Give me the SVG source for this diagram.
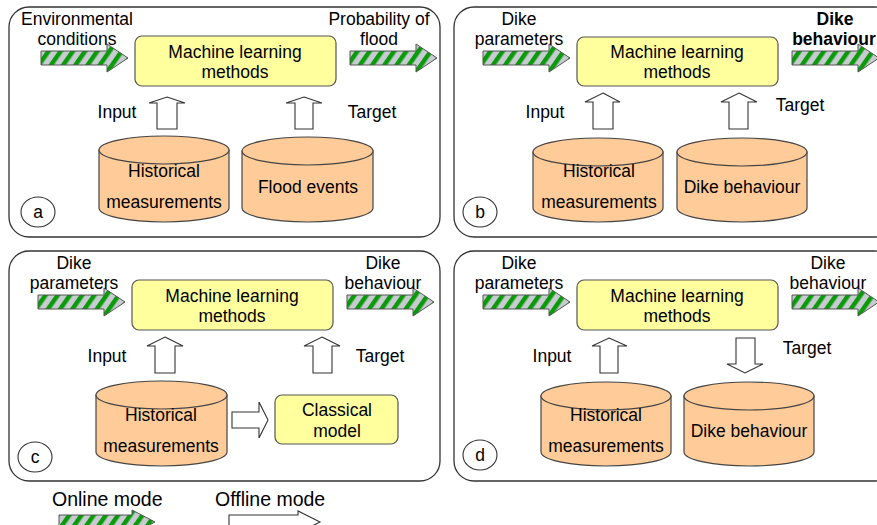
<svg xmlns="http://www.w3.org/2000/svg" width="877" height="525" viewBox="0 0 877 525">
<style>
text{font-family:"Liberation Sans",Arial,sans-serif;font-size:17.5px;fill:#000;text-anchor:middle}
text.leg{text-anchor:start;font-size:19.5px}
text.bold{font-weight:bold}
.panel{fill:#fff;stroke:#333;stroke-width:1.3}
.ml{fill:#FFFF9E;stroke:#555;stroke-width:1.2}
.cyl{fill:#FFCC99;stroke:#444;stroke-width:1.2}
.blk{fill:#fff;stroke:#333;stroke-width:1.1}
.lbl{fill:#fff;stroke:#333;stroke-width:1.1}
.str{fill:url(#stripes);stroke:#555;stroke-width:1}
</style>
<defs>
<pattern id="stripes" patternUnits="userSpaceOnUse" width="10" height="10" patternTransform="rotate(35)">
<rect width="10" height="10" fill="#C9CBD2"/>
<rect width="4.5" height="10" fill="#0A9A0A"/>
</pattern>
<path id="sarrow" d="M0,-7 L66,-7 L66,-14 L87,0 L66,14 L66,7 L0,7 Z"/>
</defs>

<g id="panel-a">
<rect class="panel" x="9" y="7" width="431" height="230" rx="20"/>
<g id="a-in"><use href="#sarrow" class="str" x="41" y="58"/><text x="77" y="25">Environmental</text><text x="77" y="45">conditions</text></g>
<g id="a-out"><use href="#sarrow" class="str" x="350" y="58"/><text x="379" y="25">Probability of</text><text x="379" y="45">flood</text></g>
<g id="a-ml"><rect class="ml" x="135" y="36" width="201" height="50" rx="7"/><text x="235" y="58">Machine learning</text><text x="235" y="78">methods</text></g>
<g id="a-hist"><path class="cyl" d="M99,150 L99,208 A65,14 0 0 0 229,208 L229,150 Z"/><ellipse class="cyl" cx="164" cy="150" rx="65" ry="14"/><text x="164" y="177">Historical</text><text x="164" y="208">measurements</text></g>
<g id="a-flood"><path class="cyl" d="M242,151 L242,208 A65.5,14 0 0 0 373,208 L373,151 Z"/><ellipse class="cyl" cx="307.5" cy="151" rx="65.5" ry="14"/><text x="308" y="193">Flood events</text></g>
<g id="a-tag"><ellipse class="lbl" cx="38" cy="212" rx="17" ry="15"/><text x="38" y="218">a</text></g>
</g>

<g id="panel-b">
<rect class="panel" x="454" y="7" width="440" height="230" rx="20"/>
<g id="b-in"><use href="#sarrow" class="str" x="483" y="58"/><text x="519" y="25">Dike</text><text x="519" y="45">parameters</text></g>
<g id="b-out"><use href="#sarrow" class="str" x="792" y="58"/><text class="bold" x="835" y="25">Dike</text><text class="bold" x="834" y="45">behaviour</text></g>
<g id="b-ml"><rect class="ml" x="577" y="37" width="201" height="49" rx="7"/><text x="677" y="58">Machine learning</text><text x="677" y="78">methods</text></g>
<g id="b-hist"><path class="cyl" d="M533,152 L533,208 A65,14 0 0 0 663,208 L663,152 Z"/><ellipse class="cyl" cx="598" cy="152" rx="65" ry="14"/><text x="599" y="177">Historical</text><text x="599" y="208">measurements</text></g>
<g id="b-dike"><path class="cyl" d="M677,152 L677,208 A65,14 0 0 0 807,208 L807,152 Z"/><ellipse class="cyl" cx="742" cy="152" rx="65" ry="14"/><text x="742" y="193">Dike behaviour</text></g>
<g id="b-tag"><ellipse class="lbl" cx="480" cy="212" rx="17" ry="15"/><text x="480" y="218">b</text></g>
</g>

<g id="panel-c">
<rect class="panel" x="9" y="251" width="431" height="230" rx="20"/>
<g id="c-in"><use href="#sarrow" class="str" x="38" y="302"/><text x="74" y="269">Dike</text><text x="74" y="289">parameters</text></g>
<g id="c-out"><use href="#sarrow" class="str" x="347" y="302"/><text x="383" y="269">Dike</text><text x="383" y="289">behaviour</text></g>
<g id="c-ml"><rect class="ml" x="132" y="280" width="201" height="50" rx="7"/><text x="232" y="302">Machine learning</text><text x="232" y="322">methods</text></g>
<g id="c-hist"><path class="cyl" d="M96,395 L96,452 A65.5,14 0 0 0 227,452 L227,395 Z"/><ellipse class="cyl" cx="161.5" cy="395" rx="65.5" ry="14"/><text x="161" y="421">Historical</text><text x="161" y="452">measurements</text></g>
<g id="c-class"><rect class="ml" x="275" y="395" width="123" height="49" rx="7"/><text x="337" y="416">Classical</text><text x="337" y="437">model</text></g>
<g id="c-tag"><ellipse class="lbl" cx="35" cy="457" rx="17" ry="15"/><text x="35" y="463">c</text></g>
</g>

<g id="panel-d">
<rect class="panel" x="454" y="251" width="440" height="230" rx="20"/>
<g id="d-in"><use href="#sarrow" class="str" x="483" y="302"/><text x="519" y="269">Dike</text><text x="519" y="289">parameters</text></g>
<g id="d-out"><use href="#sarrow" class="str" x="792" y="302"/><text x="828" y="269">Dike</text><text x="828" y="289">behaviour</text></g>
<g id="d-ml"><rect class="ml" x="577" y="280" width="201" height="50" rx="7"/><text x="677" y="302">Machine learning</text><text x="677" y="322">methods</text></g>
<g id="d-hist"><path class="cyl" d="M541,396 L541,452 A65,14 0 0 0 671,452 L671,396 Z"/><ellipse class="cyl" cx="606" cy="396" rx="65" ry="14"/><text x="606" y="421">Historical</text><text x="606" y="452">measurements</text></g>
<g id="d-dike"><path class="cyl" d="M684,396 L684,452 A65,14 0 0 0 814,452 L814,396 Z"/><ellipse class="cyl" cx="749" cy="396" rx="65" ry="14"/><text x="749" y="437">Dike behaviour</text></g>
<g id="d-tag"><ellipse class="lbl" cx="480" cy="455" rx="17" ry="15"/><text x="480" y="461">d</text></g>
</g>

<g id="connectors">
<path class="blk" d="M167,97 L185,103 L177,103 L177,129 L157,129 L157,103 L149,103 Z"/>
<path class="blk" d="M304,97 L322,103 L313,103 L313,129 L295,129 L295,103 L286,103 Z"/>
<text x="117" y="118">Input</text>
<text x="372" y="118">Target</text>
<path class="blk" d="M603,93 L620,102 L613,102 L613,129 L593,129 L593,102 L585,102 Z"/>
<path class="blk" d="M739,93 L757,102 L748,102 L748,129 L729,129 L729,102 L721,102 Z"/>
<text x="545" y="118">Input</text>
<text x="800" y="111">Target</text>
<path class="blk" d="M165,337 L183,346 L175,346 L175,373 L155,373 L155,346 L147,346 Z"/>
<path class="blk" d="M322,337 L340,346 L332,346 L332,373 L313,373 L313,346 L304,346 Z"/>
<text x="107" y="362">Input</text>
<text x="380" y="362">Target</text>
<path class="blk" d="M232,412 L259,412 L259,402 L268,420 L259,438 L259,428 L232,428 Z"/>
<path class="blk" d="M609,338 L627,346 L618,346 L618,373 L600,373 L600,346 L592,346 Z"/>
<path class="blk" d="M736,338 L755,338 L755,364 L763,364 L745,373 L727,364 L736,364 Z"/>
<text x="552" y="362">Input</text>
<text x="807" y="354">Target</text>
</g>

<g id="legend">
<text class="leg" x="52" y="506">Online mode</text>
<path class="str" d="M59,515 L132,515 L132,510 L155,522 L132,534 L132,529 L59,529 Z"/>
<text class="leg" x="215" y="506">Offline mode</text>
<path class="blk" d="M229,515 L298,515 L298,511 L320,522 L298,533 L298,529 L229,529 Z"/>
</g>
</svg>
